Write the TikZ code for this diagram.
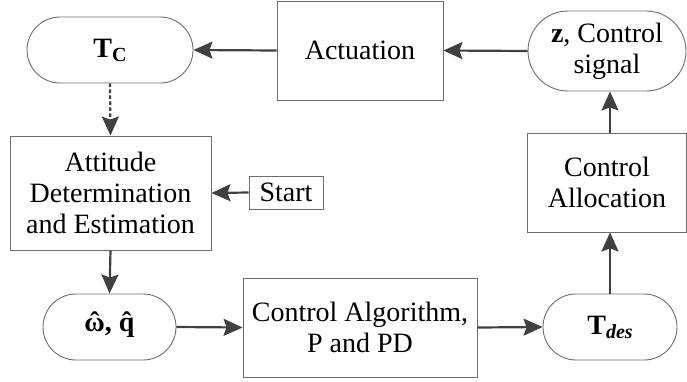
\documentclass[tikz,border=0pt]{standalone}
\usepackage{fontspec}
\setmainfont{Liberation Serif}
\usetikzlibrary{shapes.misc,arrows.meta}
\definecolor{boxline}{HTML}{6E6E6E}
\definecolor{arrowcol}{HTML}{404040}
\newcommand\hatsym[1]{\ooalign{#1\cr\hidewidth ˆ\hidewidth\cr}}
\begin{document}
\begin{tikzpicture}[x=1pt,y=-1pt,
  every node/.style={font=\fontsize{28}{31}\selectfont, align=center, inner sep=0pt, text=black},
  boxnode/.style={draw=boxline, line width=0.9pt, rectangle},
  pillnode/.style={draw=boxline, line width=0.9pt, rounded rectangle},
  conn/.style={draw=arrowcol, line width=2.2pt, -{Stealth[length=19pt,width=17pt,inset=3pt]}},
  dashconn/.style={conn, dash pattern=on 3.5pt off 2.5pt}]
\useasboundingbox (0,0) rectangle (687,381);
\node[pillnode, minimum width=166pt, minimum height=66pt] (TC) at (110,50)
  {\textbf{T\raisebox{-4pt}{\fontsize{20}{20}\selectfont C}}};
\node[boxnode, minimum width=166pt, minimum height=99pt] (Act) at (360,50.5) {Actuation};
\node[pillnode, minimum width=158pt, minimum height=80pt] (Z) at (607,51)
  {\textbf{z}, Control\\signal};
\node[boxnode, minimum width=159pt, minimum height=99pt] (CA) at (607,182.5) {Control\\Allocation};
\node[boxnode, minimum width=201pt, minimum height=114pt] (ADE) at (110.5,193)
  {Attitude\\Determination\\and Estimation};
\node[boxnode, minimum width=74pt, minimum height=33pt] (Start) at (286,192.5) {Start};
\node[pillnode, minimum width=133pt, minimum height=66pt] (W) at (109.5,327)
  {\textbf{\hatsym{ω}, \hatsym{q}}};
\node[boxnode, minimum width=234pt, minimum height=99pt] (CAlg) at (360,327.5)
  {Control Algorithm,\\P and PD};
\node[pillnode, minimum width=134pt, minimum height=66pt] (Tdes) at (610,327)
  {\textbf{T\raisebox{-4pt}{\fontsize{20}{20}\selectfont\itshape des}}};
\draw[conn] (Act.west) -- (TC.east);
\draw[conn] (Z.west) -- (Act.east);
\draw[conn] (CA.north -| Tdes.north) -- (Z.south -| Tdes.north);
\draw[conn] (Tdes.north) -- (Tdes.north |- CA.south);
\draw[conn] (Start.west) -- (ADE.east);
\draw[dashconn] (TC.south) -- (ADE.north);
\draw[conn] (ADE.south) -- (W.north);
\draw[conn] (W.east) -- (CAlg.west);
\draw[conn] (CAlg.east) -- (Tdes.west);
\end{tikzpicture}
\end{document}
